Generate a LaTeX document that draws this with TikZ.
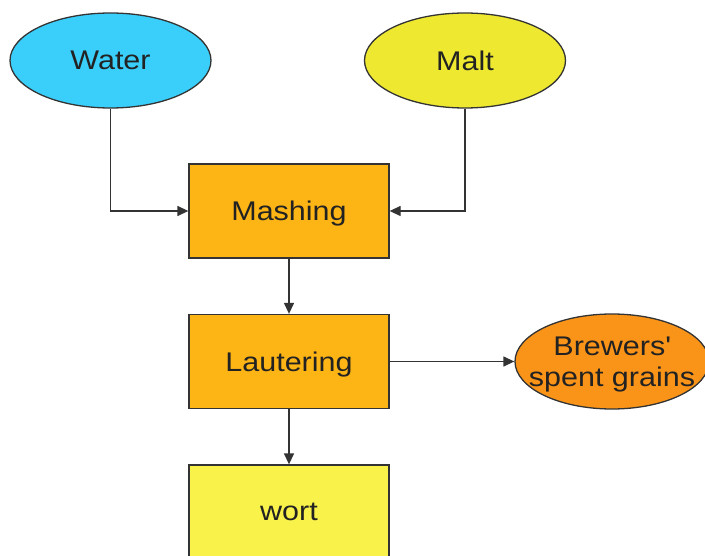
\documentclass[tikz,border=0pt]{standalone}
\usepackage{fontspec}
\setmainfont[FakeStretch=1.13]{Liberation Sans}
\usetikzlibrary{shapes.geometric,arrows.meta}
\definecolor{waterc}{HTML}{3ACFFB}
\definecolor{maltc}{HTML}{EEE830}
\definecolor{mashc}{HTML}{FDB515}
\definecolor{wortc}{HTML}{F9F24A}
\definecolor{bsgc}{HTML}{F99419}
\definecolor{linec}{HTML}{333333}
\definecolor{textc}{HTML}{222222}
\tikzset{
  x=1pt,y=-1pt,
  base/.style={draw=linec,line width=1.3pt,text=textc,font=\fontsize{27}{31}\selectfont,align=center,inner sep=0pt,text depth=0pt},
  oval/.style={base,ellipse,minimum width=201pt,minimum height=95pt},
  proc/.style={base,rectangle,minimum width=200pt,minimum height=94pt},
  conn/.style={draw=linec,line width=1.3pt,-{Triangle[length=11pt,width=10pt]}}
}
\begin{document}
\begin{tikzpicture}
\useasboundingbox (0,0) rectangle (705,556);
\clip (0,0) rectangle (705,556);
\node[oval,fill=waterc] (water) at (110.5,60.5) {Water};
\node[oval,fill=maltc] (malt) at (465,60.5) {Malt};
\node[proc,fill=mashc] (mash) at (289,211) {Mashing};
\node[proc,fill=mashc] (laut) at (289,361.5) {Lautering};
\node[proc,fill=wortc] (wort) at (289,512) {wort};
\node[oval,fill=bsgc,minimum width=194pt,inner xsep=-15pt] (bsg) at (612,361.5) {Brewers\textquotesingle\\spent grains};
\draw[conn] (water.south) |- (mash.west);
\draw[conn] (malt.south) |- (mash.east);
\draw[conn] (mash.south) -- (laut.north);
\draw[conn] (laut.east) -- (bsg.west);
\draw[conn] (laut.south) -- (wort.north);
\end{tikzpicture}
\end{document}
